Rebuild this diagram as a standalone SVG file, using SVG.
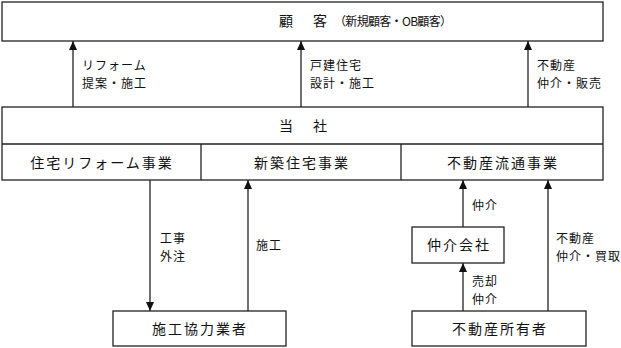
<svg xmlns="http://www.w3.org/2000/svg" width="621" height="348" viewBox="0 0 621 348">
<defs>
<marker id="ah" markerWidth="10" markerHeight="10" refX="9" refY="5" orient="auto" markerUnits="userSpaceOnUse">
<path d="M0,1 L9,5 L0,9 Z" fill="#111"/>
</marker>
</defs>
<style>
.box{fill:#fff;stroke:#222;stroke-width:1.3}
.ln{stroke:#222;stroke-width:1.3;fill:none}
text{font-family:"Noto Sans CJK JP","Noto Sans",sans-serif;fill:#111}
.t{font-size:14px;letter-spacing:2px;text-anchor:middle}
.l{font-size:12px;letter-spacing:1px}
</style>
<rect width="621" height="348" fill="#fff"/>
<g id="customer">
<rect class="box" x="2" y="2" width="601" height="39"/>
<text x="279" y="26" style="font-size:14px">顧<tspan x="313">客</tspan><tspan x="334" style="font-size:12px" textLength="118">（新規顧客・OB顧客）</tspan></text>
</g>
<g id="company">
<rect class="box" x="2" y="107" width="601" height="73"/>
<line class="ln" x1="2" y1="144" x2="603" y2="144"/>
<line class="ln" x1="201" y1="144" x2="201" y2="180"/>
<line class="ln" x1="401" y1="144" x2="401" y2="180"/>
<text x="279" y="131" style="font-size:14px">当<tspan x="313">社</tspan></text>
<text class="t" x="102" y="168">住宅リフォーム事業</text>
<text class="t" x="302" y="168">新築住宅事業</text>
<text class="t" x="503" y="168">不動産流通事業</text>
</g>
<g id="partner">
<rect class="box" x="113" y="311" width="173" height="35"/>
<text class="t" x="200" y="334">施工協力業者</text>
</g>
<g id="broker">
<rect class="box" x="412" y="227" width="92" height="36"/>
<text class="t" x="459" y="250">仲介会社</text>
</g>
<g id="owner">
<rect class="box" x="412" y="311" width="174" height="35"/>
<text class="t" x="500" y="334">不動産所有者</text>
</g>
<g id="connectors">
<line class="ln" x1="73" y1="107" x2="73" y2="41" marker-end="url(#ah)"/>
<line class="ln" x1="301" y1="107" x2="301" y2="41" marker-end="url(#ah)"/>
<line class="ln" x1="528" y1="107" x2="528" y2="41" marker-end="url(#ah)"/>
<line class="ln" x1="150" y1="180" x2="150" y2="311" marker-end="url(#ah)"/>
<line class="ln" x1="248" y1="311" x2="248" y2="180" marker-end="url(#ah)"/>
<line class="ln" x1="463" y1="227" x2="463" y2="180" marker-end="url(#ah)"/>
<line class="ln" x1="463" y1="311" x2="463" y2="263" marker-end="url(#ah)"/>
<line class="ln" x1="548" y1="311" x2="548" y2="180" marker-end="url(#ah)"/>
<text class="l" x="82" y="70">リフォーム</text>
<text class="l" x="82" y="88">提案・施工</text>
<text class="l" x="310" y="70">戸建住宅</text>
<text class="l" x="310" y="88">設計・施工</text>
<text class="l" x="537" y="70">不動産</text>
<text class="l" x="537" y="88">仲介・販売</text>
<text class="l" x="160" y="243">工事</text>
<text class="l" x="160" y="261">外注</text>
<text class="l" x="256" y="250">施工</text>
<text class="l" x="472" y="210">仲介</text>
<text class="l" x="472" y="286">売却</text>
<text class="l" x="472" y="304">仲介</text>
<text class="l" x="556" y="243">不動産</text>
<text class="l" x="556" y="261">仲介・買取</text>
</g>
</svg>
